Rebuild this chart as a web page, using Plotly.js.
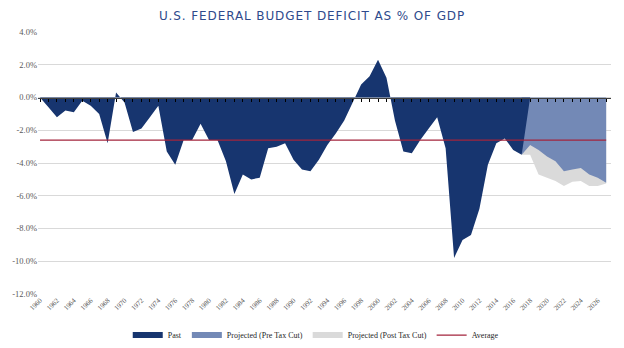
<!DOCTYPE html>
<html>
<head>
<meta charset="utf-8">
<script src="https://cdn.plot.ly/plotly-3.0.1.min.js"></script>
<style>
html,body{margin:0;padding:0;background:#fff;}
#chart{width:624px;height:348px;}
.gtitle{letter-spacing:0.9px;}
</style>
</head>
<body>
<div id="chart"></div>
<script>
// ---- Data ----
const pastYears = [];
for (let y = 1960; y <= 2018; y++) pastYears.push(y);
const pastValues = [
  0.0, -0.6, -1.2, -0.8, -0.9, -0.2, -0.5, -1.0, -2.8, 0.3,   // 1960-1969
  -0.3, -2.1, -1.9, -1.2, -0.5, -3.3, -4.1, -2.6, -2.6, -1.6, // 1970-1979
  -2.6, -2.6, -3.9, -5.9, -4.7, -5.0, -4.9, -3.1, -3.0, -2.8, // 1980-1989
  -3.8, -4.4, -4.5, -3.8, -2.9, -2.2, -1.4, -0.3, 0.8, 1.3,   // 1990-1999
  2.3, 1.2, -1.4, -3.3, -3.4, -2.6, -1.9, -1.2, -3.1, -9.8,   // 2000-2009
  -8.7, -8.4, -6.8, -4.1, -2.8, -2.5, -3.2, -3.5,             // 2010-2017
  0.0                                                          // 2018 (blank in source sheet)
];
const projYears = [2017, 2018, 2019, 2020, 2021, 2022, 2023, 2024, 2025, 2026, 2027];
const preTaxCut  = [-3.5, -2.9, -3.2, -3.6, -3.9, -4.5, -4.4, -4.3, -4.7, -4.9, -5.2];
const postTaxCut = [-3.5, -3.5, -4.7, -4.9, -5.1, -5.4, -5.15, -5.1, -5.4, -5.4, -5.25];
const avgYears = [1960, 2027];
const averageValue = -2.6;
const avgValues = [averageValue, averageValue];

const xTickVals = [];
for (let y = 1960; y <= 2026; y += 2) xTickVals.push(y);
const xTickText = xTickVals.map(String);
const yTickVals = [4, 2, 0, -2, -4, -6, -8, -10, -12];
const yTickText = ['4.0%', '2.0%', '0.0%', '-2.0%', '-4.0%', '-6.0%', '-8.0%', '-10.0%', '-12.0%'];

// ---- Styles ----
const cDark = '#17356F';
const cPre = '#7389B6';
const cPost = '#DADADA';
const cAvg = '#A3243C';

const traces = [
  { x: projYears, y: postTaxCut, name: 'Projected (Post Tax Cut)', type: 'scatter', mode: 'none',
    fill: 'tozeroy', fillcolor: cPost, legendrank: 3, hoverinfo: 'skip' },
  { x: projYears, y: preTaxCut, name: 'Projected (Pre Tax Cut)', type: 'scatter', mode: 'none',
    fill: 'tozeroy', fillcolor: cPre, legendrank: 2, hoverinfo: 'skip' },
  { x: pastYears, y: pastValues, name: 'Past', type: 'scatter', mode: 'none',
    fill: 'tozeroy', fillcolor: cDark, legendrank: 1, hoverinfo: 'skip' },
  { x: avgYears, y: avgValues, name: 'Average', type: 'scatter', mode: 'lines',
    line: { color: cAvg, width: 1.3 }, legendrank: 4, hoverinfo: 'skip' },
  // empty trace carrying the category axis that crosses at 0 (drawn above the areas)
  { x: [], y: [], xaxis: 'x2', yaxis: 'y2', type: 'scatter', mode: 'none', showlegend: false, hoverinfo: 'skip' }
];

const xRange = [1959.76, 2027.57];
const yRange = [-12, 4];
const zeroFrac = (0 - yRange[0]) / (yRange[1] - yRange[0]);

const layout = {
  width: 624, height: 348,
  margin: { l: 38, r: 13, t: 32, b: 54, pad: 0 },
  paper_bgcolor: '#ffffff', plot_bgcolor: 'rgba(0,0,0,0)',
  showlegend: true,
  title: {
    text: 'U.S. FEDERAL BUDGET DEFICIT AS % OF GDP',
    font: { family: 'DejaVu Sans, sans-serif', size: 12, color: '#2E4A8C' },
    x: 0.5, xanchor: 'center', y: 0.954, yanchor: 'middle', xref: 'container', yref: 'container'
  },
  xaxis: {
    range: xRange, showgrid: false, zeroline: false, showline: false,
    tickmode: 'array', tickvals: xTickVals, ticktext: xTickText,
    tickangle: -45, ticks: '', tickfont: { family: 'Liberation Serif, serif', size: 7, color: '#595959' },
    fixedrange: true
  },
  yaxis: {
    range: yRange, showgrid: true, gridcolor: '#D9D9D9', gridwidth: 1,
    zeroline: false, showline: false, ticks: '',
    tickmode: 'array', tickvals: yTickVals, ticktext: yTickText,
    tickfont: { family: 'Liberation Serif, serif', size: 8.5, color: '#595959' },
    fixedrange: true
  },
  xaxis2: {
    anchor: 'y2', side: 'bottom', domain: [0, 1],
    range: xRange, showgrid: false, zeroline: false,
    showline: true, linecolor: '#404040', linewidth: 1.5,
    ticks: 'outside', ticklen: 3, tickwidth: 1, tickcolor: '#000000',
    tickmode: 'linear', tick0: 1960, dtick: 1, showticklabels: false,
    fixedrange: true
  },
  yaxis2: {
    anchor: 'x2', domain: [zeroFrac, 1], range: [0, 1],
    visible: false, showgrid: false, zeroline: false, fixedrange: true
  },
  legend: {
    orientation: 'h', xref: 'container', yref: 'container',
    x: 0.506, xanchor: 'center', y: 0.037, yanchor: 'middle',
    font: { family: 'Liberation Serif, serif', size: 8, color: '#262626' },
    traceorder: 'normal', itemwidth: 30, bgcolor: 'rgba(0,0,0,0)'
  }
};

Plotly.newPlot('chart', traces, layout, { staticPlot: true, displayModeBar: false });
</script>
</body>
</html>
